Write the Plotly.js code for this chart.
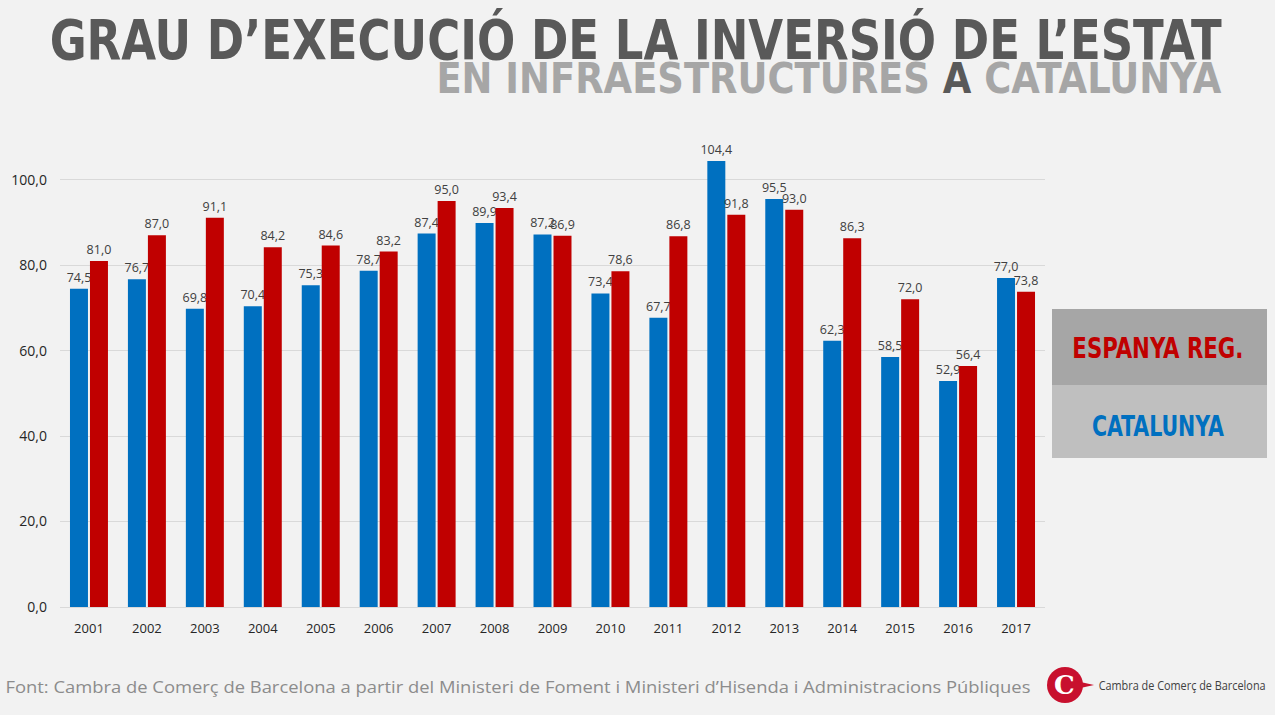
<!DOCTYPE html>
<html>
<head>
<meta charset="utf-8">
<script src="https://cdn.plot.ly/plotly-3.0.1.min.js"></script>
<style>html,body{margin:0;padding:0;background:#f2f2f2;}#chart{width:1275px;height:715px;}</style>
</head>
<body>
<div id="chart"></div>
<script>
const years = ['2001','2002','2003','2004','2005','2006','2007','2008','2009','2010','2011','2012','2013','2014','2015','2016','2017'];
const catalunya = [74.5,76.7,69.8,70.4,75.3,78.7,87.4,89.9,87.2,73.4,67.7,104.4,95.5,62.3,58.5,52.9,77.0];
const espanya = [81.0,87.0,91.1,84.2,84.6,83.2,95.0,93.4,86.9,78.6,86.8,91.8,93.0,86.3,72.0,56.4,73.8];
const yTicks = [0,20,40,60,80,100];

const W = 1275, H = 715;
const L = 60, R = 1045, T = 137, B = 607;
const px = x => (x - L) / (R - L);
const py = y => (B - y) / (B - T);

const labelFont = {family: 'Open Sans, sans-serif', size: 12.5, color: '#404040'};
const headFont = 'DejaVu Sans Condensed, DejaVu Sans, sans-serif';

const traces = [
  {type: 'bar', name: 'CATALUNYA', x: years, y: catalunya, marker: {color: '#0070c0'},
   texttemplate: '%{y:.1f}', textposition: 'outside', constraintext: 'none', cliponaxis: false,
   textfont: labelFont, hoverinfo: 'x+y'},
  {type: 'bar', name: 'ESPANYA REG.', x: years, y: espanya, marker: {color: '#c00000'},
   texttemplate: '%{y:.1f}', textposition: 'outside', constraintext: 'none', cliponaxis: false,
   textfont: labelFont, hoverinfo: 'x+y'}
];

// annotation index -> target text width in pixels
const fitWidths = {0: 1172, 1: 785, 2: 171, 3: 132, 4: 1025, 6: 167};

const layout = {
  width: W, height: H,
  paper_bgcolor: '#f2f2f2', plot_bgcolor: '#f2f2f2',
  separators: ',.',
  showlegend: false,
  barmode: 'group', bargap: 0.31, bargroupgap: 0.1,
  margin: {l: L, r: W - R, t: T, b: H - B, pad: 0},
  xaxis: {type: 'category', showgrid: false, showline: true, linecolor: '#d9d9d9', linewidth: 1,
          ticks: '', tickfont: {family: 'Open Sans, sans-serif', size: 13, color: '#262626'}, ticklabelstandoff: 9},
  yaxis: {range: [0, 110], tickvals: yTicks, tickformat: '.1f', showgrid: true, gridcolor: '#d9d9d9',
          zeroline: false, showline: false, ticks: '', ticklabelstandoff: 12,
          tickfont: {family: 'Open Sans, sans-serif', size: 14, color: '#262626'}},
  shapes: [
    {type: 'rect', xref: 'paper', yref: 'paper', x0: px(1052), x1: px(1267), y0: py(309), y1: py(385), fillcolor: '#a6a6a6', line: {width: 0}},
    {type: 'rect', xref: 'paper', yref: 'paper', x0: px(1052), x1: px(1267), y0: py(385), y1: py(458), fillcolor: '#bfbfbf', line: {width: 0}},
    {type: 'circle', xref: 'paper', yref: 'paper', x0: px(1047), x1: px(1083), y0: py(667), y1: py(703), fillcolor: '#c8102e', line: {width: 0}},
    {type: 'path', xref: 'paper', yref: 'paper',
     path: `M ${px(1076)} ${py(681)} L ${px(1094)} ${py(685)} L ${px(1076)} ${py(689)} Z`, fillcolor: '#c8102e', line: {width: 0}}
  ],
  annotations: [
    {xref: 'paper', yref: 'paper', x: px(636), y: py(39), xanchor: 'center', yanchor: 'middle', showarrow: false,
     text: 'GRAU D’EXECUCIÓ DE LA INVERSIÓ DE L’ESTAT',
     font: {family: headFont, size: 56, color: '#595959', weight: 'bold'}},
    {xref: 'paper', yref: 'paper', x: px(829.5), y: py(78), xanchor: 'center', yanchor: 'middle', showarrow: false,
     text: '<span style="color:#a6a6a6">EN INFRAESTRUCTURES </span><span style="color:#595959">A</span><span style="color:#a6a6a6"> CATALUNYA</span>',
     font: {family: headFont, size: 42, color: '#a6a6a6', weight: 'bold'}},
    {xref: 'paper', yref: 'paper', x: px(1157.5), y: py(348), xanchor: 'center', yanchor: 'middle', showarrow: false,
     text: 'ESPANYA REG.', font: {family: headFont, size: 29, color: '#c00000', weight: 'bold'}},
    {xref: 'paper', yref: 'paper', x: px(1158), y: py(426), xanchor: 'center', yanchor: 'middle', showarrow: false,
     text: 'CATALUNYA', font: {family: headFont, size: 29, color: '#0070c0', weight: 'bold'}},
    {xref: 'paper', yref: 'paper', x: px(517.5), y: py(686), xanchor: 'center', yanchor: 'middle', showarrow: false,
     text: 'Font: Cambra de Comerç de Barcelona a partir del Ministeri de Foment i Ministeri d’Hisenda i Administracions Públiques',
     font: {family: 'Open Sans, sans-serif', size: 16.5, color: '#8c8c8c'}},
    {xref: 'paper', yref: 'paper', x: px(1064), y: py(685), xanchor: 'center', yanchor: 'middle', showarrow: false,
     text: 'C', font: {family: 'DejaVu Serif, serif', size: 26, color: '#ffffff', weight: 'bold'}},
    {xref: 'paper', yref: 'paper', x: px(1181.5), y: py(685), xanchor: 'center', yanchor: 'middle', showarrow: false,
     text: 'Cambra de Comerç de Barcelona', font: {family: 'Open Sans, sans-serif', size: 12, color: '#404040'}}
  ]
};

Plotly.newPlot('chart', traces, layout, {displayModeBar: false, responsive: false}).then(gd => {
  gd.querySelectorAll('g.annotation').forEach(g => {
    const idx = g.getAttribute('data-index');
    if (fitWidths[idx] !== undefined) {
      const t = g.querySelector('text.annotation-text');
      if (t) {
        t.setAttribute('textLength', fitWidths[idx]);
        t.setAttribute('lengthAdjust', 'spacingAndGlyphs');
      }
    }
  });
});
</script>
</body>
</html>
